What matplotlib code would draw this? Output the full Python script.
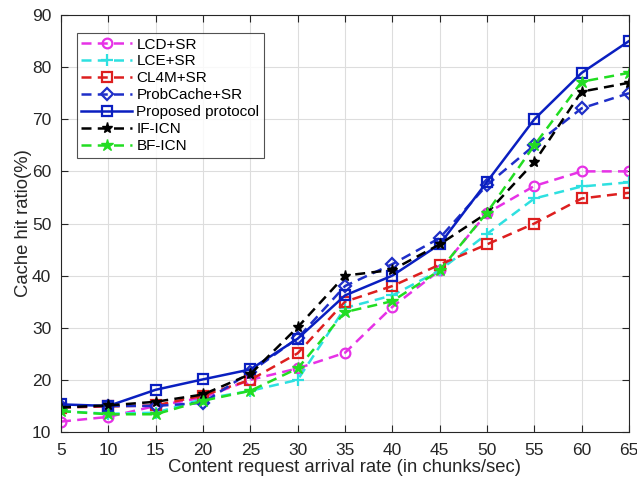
import matplotlib
matplotlib.use("Agg")
import matplotlib.pyplot as plt

plt.rcParams['font.family'] = ['Liberation Sans', 'DejaVu Sans']

rate = [5, 10, 15, 20, 25, 30, 35, 40, 45, 50, 55, 60, 65]

lcd_sr = [12, 12.9, 15, 16.6, 20, 22.2, 25.2, 34, 41, 52, 57.2, 60, 60]
lce_sr = [14, 13.5, 13.7, 16.3, 17.9, 20, 33.8, 36.2, 41, 48, 54.8, 57.1, 57.9]
cl4m_sr = [14.7, 14.9, 15.1, 17, 20, 25.1, 35, 38, 42.1, 46, 50, 54.8, 55.9]
probcache_sr = [15, 15, 15, 15.6, 21.5, 28, 38, 42.2, 47.2, 57.4, 65, 72.1, 75]
proposed = [15.3, 15, 18.1, 20.1, 22, 27.9, 36.2, 40, 46, 58, 70, 78.9, 85]
if_icn = [14.7, 15.1, 15.8, 17.2, 21.1, 30.1, 40, 41.1, 46, 52, 61.8, 75.3, 77]
bf_icn = [14, 13.4, 13.4, 16, 17.9, 22.2, 33, 35.1, 41, 52.1, 65, 77.2, 78.9]

series = [
    ("LCD+SR", lcd_sr, "#e632e6", "o", (0, (4, 2.5))),
    ("LCE+SR", lce_sr, "#2ee0e0", "+", (0, (4, 2.5))),
    ("CL4M+SR", cl4m_sr, "#dd1f1f", "s", (0, (4, 2.5))),
    ("ProbCache+SR", probcache_sr, "#1f2fc8", "D", (0, (4, 2.5))),
    ("Proposed protocol", proposed, "#0a1fc0", "s", "-"),
    ("IF-ICN", if_icn, "#000000", "*", (0, (4, 2.5))),
    ("BF-ICN", bf_icn, "#22dd22", "*", (0, (4, 2.5))),
]

fig = plt.figure(figsize=(6.37, 4.82), dpi=100)
ax = fig.add_axes([61 / 637, 1 - 432 / 482, 568 / 637, 417 / 482])

for name, vals, col, mk, ls in series:
    ms = 7
    face = "none"
    mew = 1.6
    if mk == "D":
        ms = 6
    if name == "IF-ICN":
        face = col
        ms = 8
        mew = 1.0
    if name == "BF-ICN":
        face = col
        ms = 9
        mew = 1.0
    if mk == "+":
        ms = 9
    ax.plot(rate, vals, linestyle=ls, color=col, marker=mk, markersize=ms,
            markerfacecolor=face, markeredgecolor=col, markeredgewidth=mew,
            linewidth=1.8, label=name)

ax.set_xlim(5, 65)
ax.set_ylim(10, 90)
ax.set_xticks(range(5, 66, 5))
ax.set_yticks(range(10, 91, 10))
ax.grid(True, color="#dddddd", linewidth=0.8)
ax.set_axisbelow(True)
ax.tick_params(direction="in", length=5, labelsize=12.5, colors="#262626",
               top=True, right=True)
ax.tick_params(axis="x", pad=8)
ax.tick_params(axis="y", pad=7)
for sp in ax.spines.values():
    sp.set_color("#262626")
    sp.set_linewidth(0.8)

ax.set_xlabel("Content request arrival rate (in chunks/sec)", fontsize=13.3,
              color="#262626", labelpad=1)
ax.set_ylabel("Cache hit ratio(%)", fontsize=13.3, color="#262626", labelpad=0)

leg = ax.legend(loc="upper left", bbox_to_anchor=(0.028, 0.957), fontsize=11,
                frameon=True, fancybox=False, edgecolor="#262626",
                handlelength=3.3, handletextpad=0.3, labelspacing=0.19,
                borderpad=0.3, borderaxespad=0)
leg.get_frame().set_linewidth(0.8)

fig.savefig("out.png", dpi=100)
